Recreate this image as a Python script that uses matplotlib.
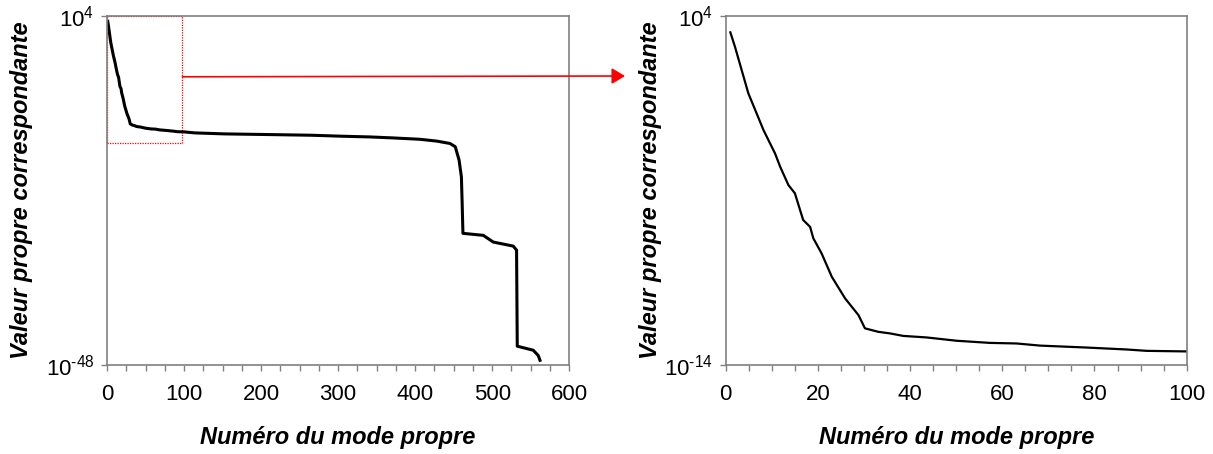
import matplotlib
matplotlib.use('Agg')
import matplotlib.pyplot as plt
import matplotlib.ticker as mt
from matplotlib.patches import Rectangle, ConnectionPatch

plt.rcParams['font.family'] = ['Liberation Sans', 'DejaVu Sans']
plt.rcParams['mathtext.fontset'] = 'custom'
plt.rcParams['mathtext.rm'] = 'Liberation Sans'

# mode number and log10 of the eigenvalue
modes = [1, 2, 4.9, 8.2, 10.7, 11.8, 13.6, 15.0, 16.8, 18.3, 19.0, 20.8,
         23.0, 25.9, 28.8, 30.2, 33.1, 35.6, 38.5, 43.6, 50.1, 57.3, 63.1,
         68.2, 78.3, 87, 91.3, 100, 114, 153, 211.5, 265.7, 306.7, 341,
         371.6, 406, 428, 445, 452, 457, 460, 461, 462, 488.4, 501.4, 527.3,
         531.6, 532.5, 553.3, 559.8, 562]
log_vals = [3.14, 2.4, 0.0, -1.9, -3.1, -3.78, -4.73, -5.15, -6.53, -6.88,
            -7.47, -8.25, -9.45, -10.57, -11.43, -12.11, -12.29, -12.37,
            -12.5, -12.58, -12.75, -12.86, -12.89, -13.0, -13.1, -13.2,
            -13.27, -13.3, -13.45, -13.6, -13.7, -13.8, -13.95, -14.05,
            -14.2, -14.4, -14.67, -15.02, -15.5, -17.5, -20.0, -24.0, -28.4,
            -28.7, -29.7, -30.3, -30.9, -45.2, -45.8, -46.6, -47.3]
eig = [10.0 ** v for v in log_vals]

xlabel = u'Numéro du mode propre'
ylabel = u'Valeur propre correspondante'
gray = '#808080'


def exp_label(e):
    s = str(e).replace('-', r'\text{-}')
    return r'$\mathregular{10^{%s}}$' % s


def style(ax, xmax, xmaj, xmin_step, ylo, yhi, lbl_x):
    ax.set_yscale('log')
    ax.set_xlim(0, xmax)
    ax.set_ylim(10.0 ** ylo, 10.0 ** yhi)
    ax.xaxis.set_major_locator(mt.MultipleLocator(xmaj))
    ax.xaxis.set_minor_locator(mt.MultipleLocator(xmin_step))
    ax.yaxis.set_major_locator(mt.FixedLocator([10.0 ** ylo, 10.0 ** yhi]))
    ax.yaxis.set_minor_locator(mt.NullLocator())
    ax.set_yticklabels([exp_label(ylo), exp_label(yhi)])
    for s in ax.spines.values():
        s.set_color(gray)
        s.set_linewidth(1.2)
    ax.tick_params(which='both', direction='out', length=4, width=1,
                   color=gray, labelsize=16, pad=5)
    ax.tick_params(axis='x', pad=10)
    ax.set_xlabel(xlabel, fontsize=17, fontweight='bold', style='italic')
    ax.set_ylabel(ylabel, fontsize=17, fontweight='bold', style='italic')
    ax.xaxis.set_label_coords(0.5, -0.175)
    ax.yaxis.set_label_coords(lbl_x, 0.5)


def main():
    fig = plt.figure(figsize=(12.13, 4.54), dpi=100)
    ax1 = fig.add_axes([0.0882, 0.196, 0.3811, 0.7695])
    ax2 = fig.add_axes([0.5983, 0.196, 0.3800, 0.7695])

    ax1.plot(modes, eig, color='black', lw=2.2)
    style(ax1, 600, 100, 25, -48, 4, -0.16)

    ax2.plot(modes, eig, color='black', lw=1.6)
    style(ax2, 100, 20, 5, -14, 4, -0.138)

    # zoom box and arrow
    box = Rectangle((0, 10.0 ** -15), 98, 10.0 ** 4 - 10.0 ** -15,
                    fill=False, edgecolor='red', linestyle=(0, (1, 1)),
                    lw=0.9, clip_on=False)
    ax1.add_patch(box)
    arrow = ConnectionPatch(xyA=(98, 10.0 ** -5.1), coordsA=ax1.transData,
                            xyB=(625 / 1213.0, 1 - 76 / 454.0),
                            coordsB=fig.transFigure,
                            arrowstyle='-|>,head_length=0.5,head_width=0.3',
                            color='red', lw=1.2, mutation_scale=16)
    fig.add_artist(arrow)

    fig.savefig('out.png', dpi=100)


if __name__ == '__main__':
    main()
